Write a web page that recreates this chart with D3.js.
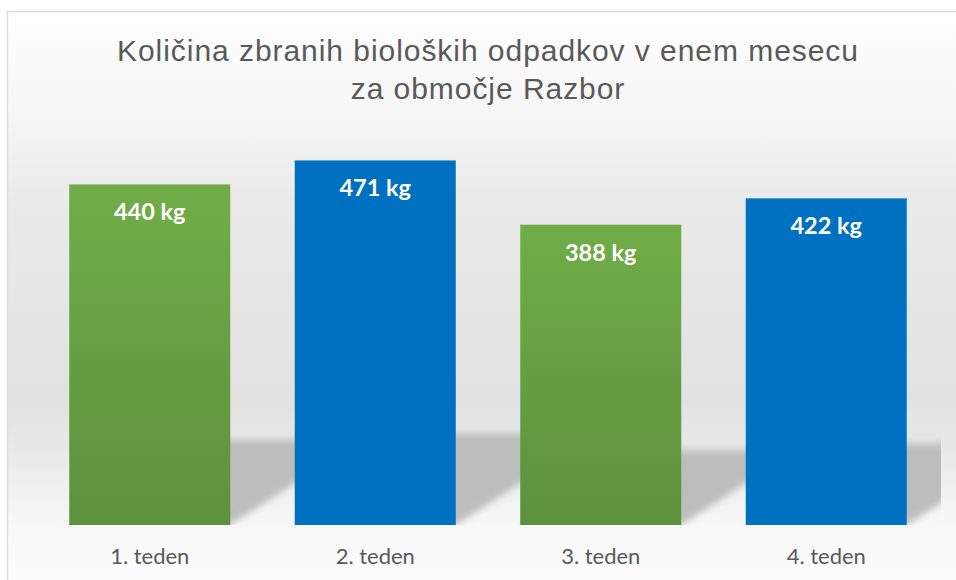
<!DOCTYPE html>
<html>
<head>
<meta charset="utf-8">
<script src="https://cdn.jsdelivr.net/npm/d3@7"></script>
<style>
  html, body { margin: 0; padding: 0; background: #ffffff; }
  svg { display: block; }
</style>
</head>
<body>
<svg id="chart" width="956" height="580"></svg>
<script>
const titleLines = ["Količina zbranih bioloških odpadkov v enem mesecu", "za območje Razbor"];
const categories = ["1. teden", "2. teden", "3. teden", "4. teden"];
const values = [440, 471, 388, 422];
const unit = "kg";
const barColors = ["green", "blue", "green", "blue"];
const yDomain = [0, 500];

const svg = d3.select("#chart");
const defs = svg.append("defs");

// background gradient
const bg = defs.append("linearGradient").attr("id", "bgGrad")
  .attr("gradientUnits", "userSpaceOnUse").attr("x1", 0).attr("y1", 11).attr("x2", 0).attr("y2", 580);
[[11, "#ffffff"], [120, "#f5f5f5"], [200, "#eaeaea"], [400, "#e2e2e2"], [440, "#e7e7e7"],
 [500, "#f2f2f2"], [525, "#f8f8f8"], [580, "#fcfcfc"]].forEach(([yy, c]) => {
  bg.append("stop").attr("offset", ((yy - 11) / (580 - 11))).attr("stop-color", c);
});

const gg = defs.append("linearGradient").attr("id", "greenGrad")
  .attr("x1", 0).attr("y1", 0).attr("x2", 0).attr("y2", 1);
gg.append("stop").attr("offset", 0).attr("stop-color", "#70ad47");
gg.append("stop").attr("offset", 1).attr("stop-color", "#5c913d");

const blur = defs.append("filter").attr("id", "shadowBlur")
  .attr("x", "-20%").attr("y", "-20%").attr("width", "140%").attr("height", "140%");
blur.append("feGaussianBlur").attr("stdDeviation", 3.5);

const clip = defs.append("clipPath").attr("id", "plotClip");

// chart area frame
svg.append("rect").attr("x", 7.5).attr("y", 11.5).attr("width", 1000).attr("height", 700)
  .attr("fill", "url(#bgGrad)").attr("stroke", "#d9d9d9").attr("stroke-width", 1.3);

// scales
const plotLeft = 37, plotRight = 939, plotTop = 138, plotBottom = 525;
const x = d3.scaleBand().domain(categories).range([plotLeft, plotRight]).paddingInner(0.286).paddingOuter(0.143);
const y = d3.scaleLinear().domain(yDomain).range([plotBottom, plotTop]);

clip.append("rect").attr("x", plotLeft).attr("y", plotTop - 40).attr("width", plotRight - plotLeft + 2).attr("height", plotBottom - plotTop + 40);

const data = categories.map((c, i) => ({ c, v: values[i], color: barColors[i] }));

// perspective shadows
const shadowScale = 0.25, skew = 1.55;
svg.append("g").attr("clip-path", "url(#plotClip)")
  .selectAll("path").data(data).join("path")
  .attr("d", d => {
    const x0 = x(d.c), x1 = x(d.c) + x.bandwidth();
    const h = (y(0) - y(d.v)) * shadowScale;
    const dx = h * skew;
    return `M${x0},${y(0)} L${x1},${y(0)} L${x1 + dx},${y(0) - h} L${x0 + dx},${y(0) - h} Z`;
  })
  .attr("fill", "#bdbdbd")
  .attr("filter", "url(#shadowBlur)");

// bars
svg.append("g").selectAll("rect").data(data).join("rect")
  .attr("x", d => x(d.c))
  .attr("y", d => y(d.v))
  .attr("width", x.bandwidth())
  .attr("height", d => y(0) - y(d.v))
  .attr("fill", d => d.color === "green" ? "url(#greenGrad)" : "#0070c0");

// value labels
svg.append("g").selectAll("text").data(data).join("text")
  .attr("x", d => x(d.c) + x.bandwidth() / 2)
  .attr("y", d => y(d.v) + 36)
  .attr("text-anchor", "middle")
  .attr("font-family", "Lato, 'Open Sans', sans-serif")
  .attr("font-weight", "bold")
  .attr("font-size", 23.5)
  .attr("fill", "#ffffff")
  .text(d => `${d.v} ${unit}`);

// category axis
const xAxis = d3.axisBottom(x).tickSize(0).tickPadding(0);
const ax = svg.append("g").attr("transform", `translate(0, ${plotBottom})`).call(xAxis);
ax.select(".domain").remove();
ax.selectAll("text")
  .attr("y", 39)
  .attr("dy", 0)
  .attr("font-family", "Lato, 'Open Sans', sans-serif")
  .attr("font-size", 22)
  .attr("fill", "#595959");

// title
const title = svg.append("text")
  .attr("x", 488)
  .attr("text-anchor", "middle")
  .attr("font-family", "'Liberation Sans', Arial, sans-serif")
  .attr("font-size", 30)
  .attr("letter-spacing", 0.95)
  .attr("fill", "#595959");
titleLines.forEach((t, i) => {
  title.append("tspan").attr("x", 488).attr("y", 61 + i * 38).text(t);
});
</script>
</body>
</html>
